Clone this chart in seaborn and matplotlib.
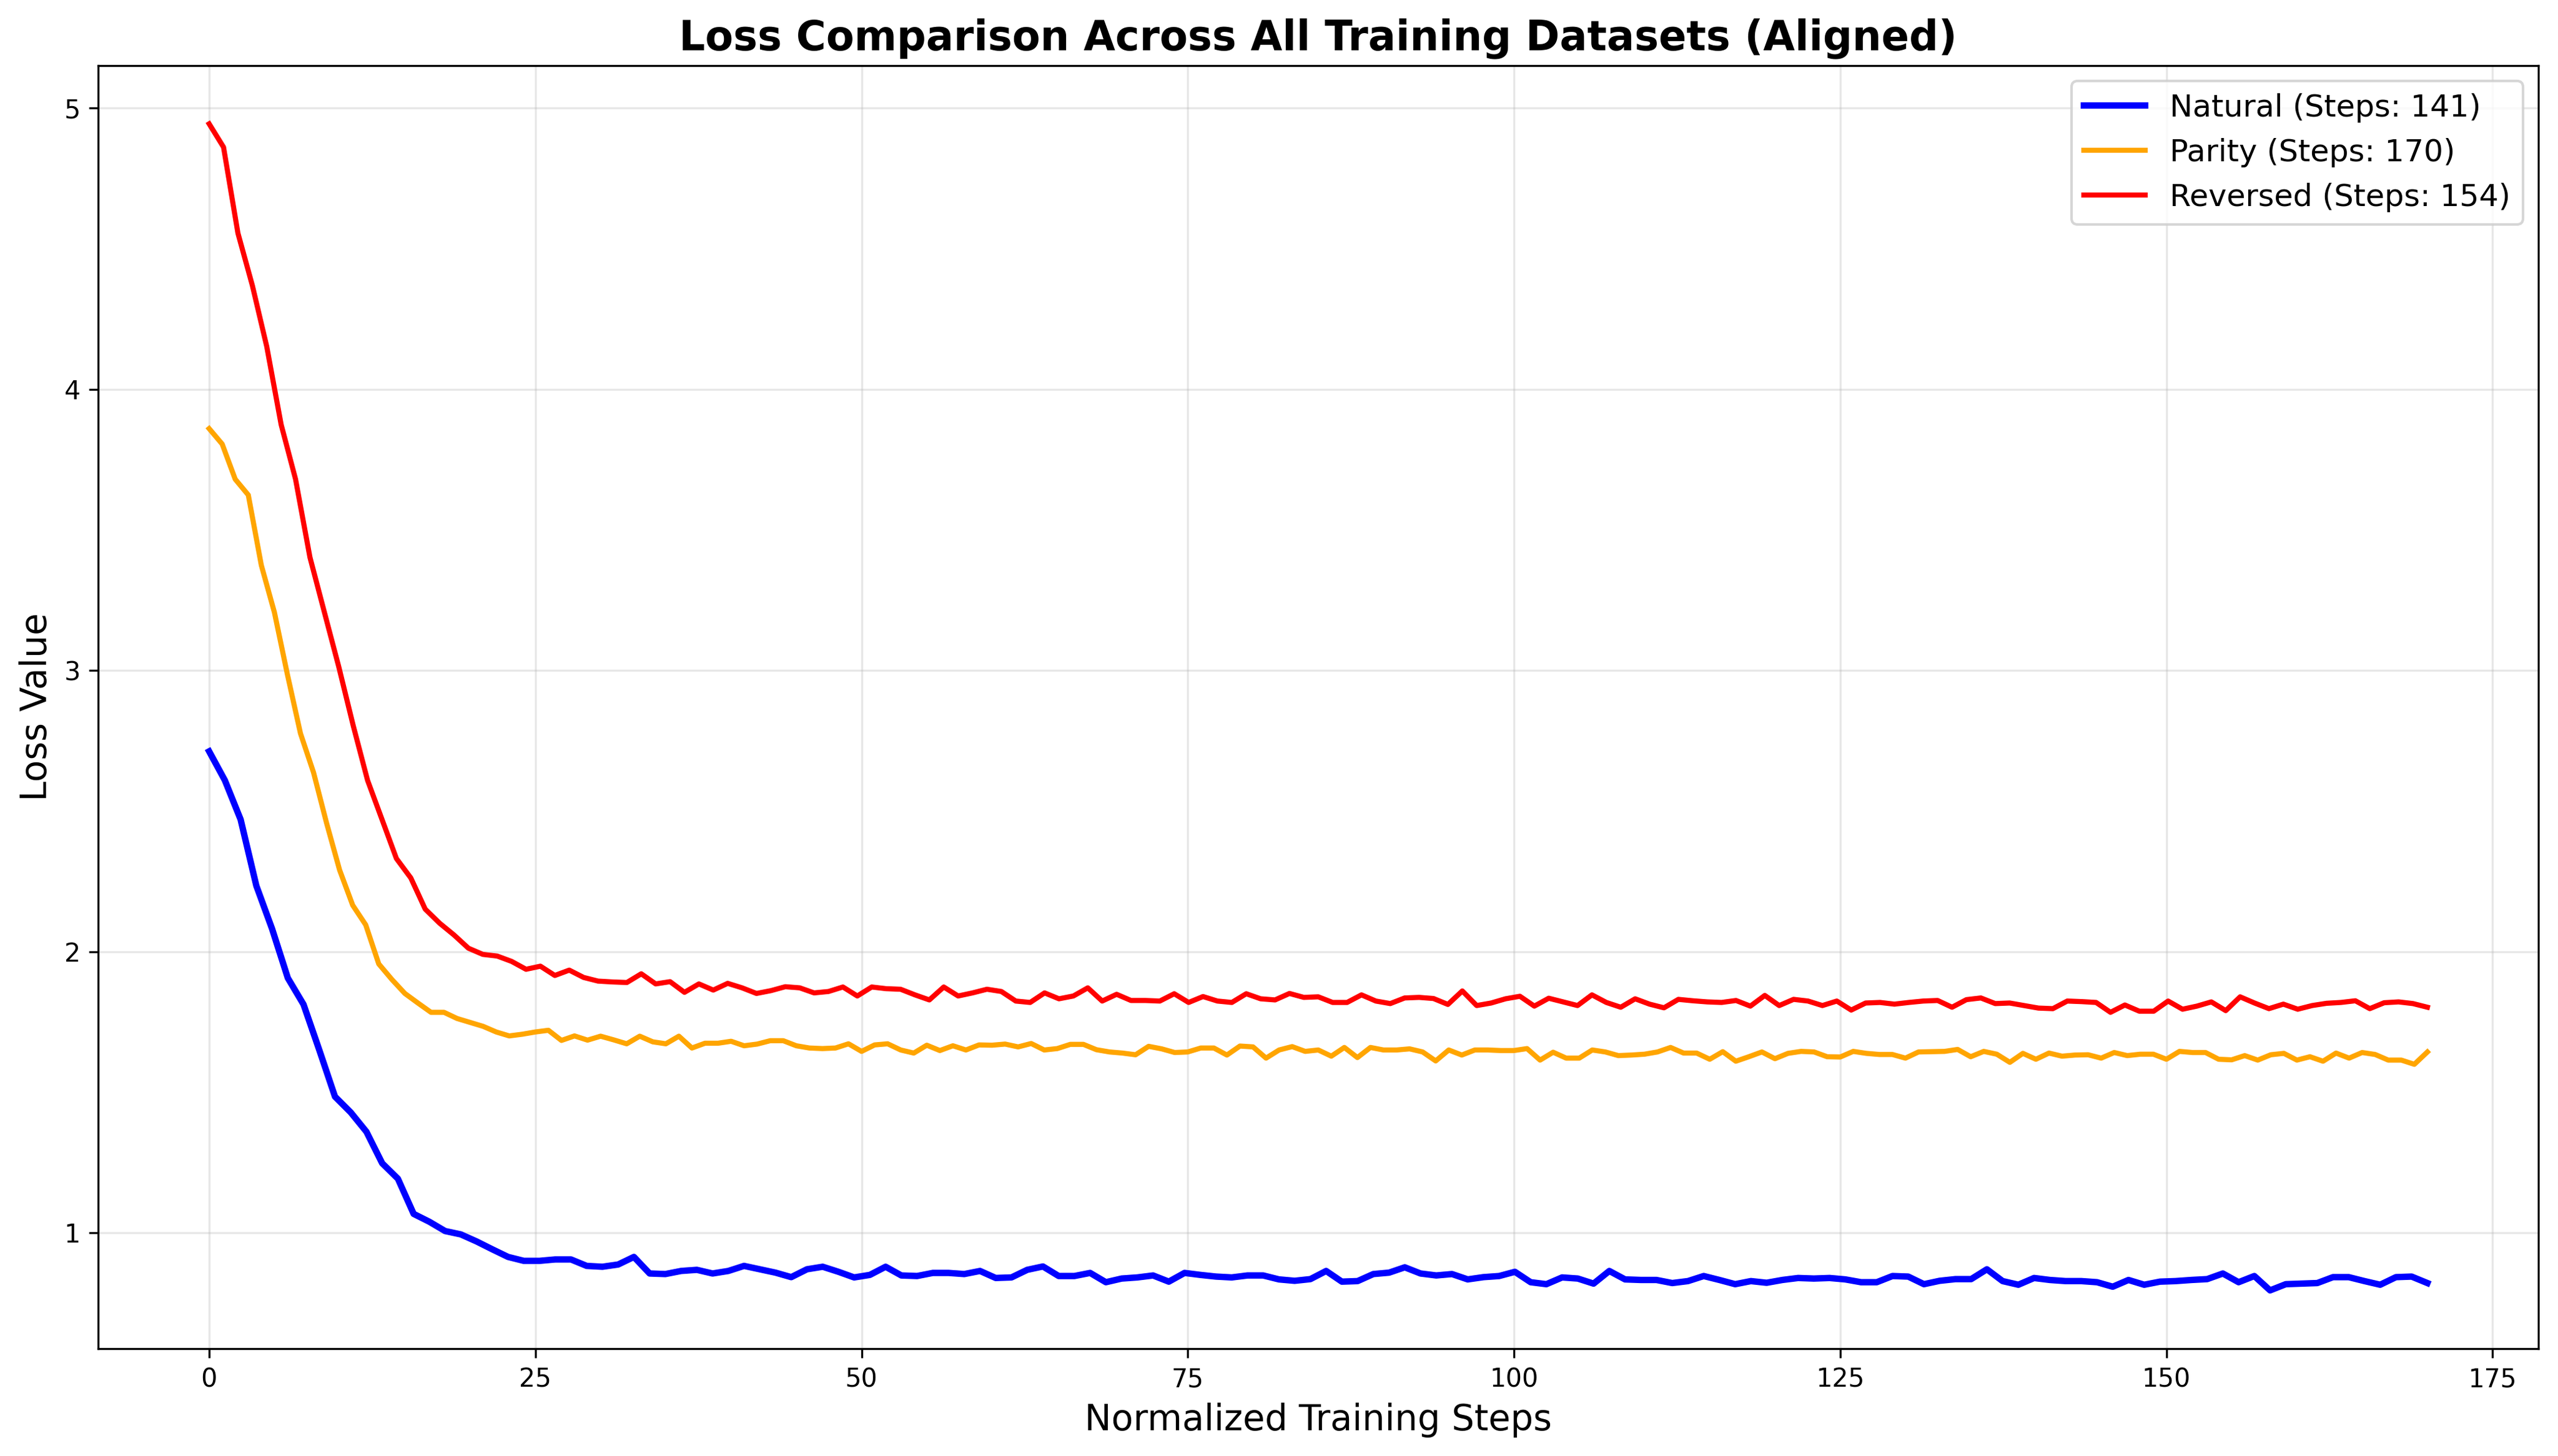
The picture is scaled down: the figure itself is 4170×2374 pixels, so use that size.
import numpy as np
import pandas as pd
import matplotlib
matplotlib.use("Agg")
import matplotlib.pyplot as plt
import seaborn as sns

# ---- data ----
max_steps = 170

natural_loss = [
    2.712, 2.609, 2.470, 2.234, 2.081, 1.906, 1.812, 1.650, 1.484, 1.428,
    1.359, 1.247, 1.192, 1.067, 1.039, 1.006, 0.994, 0.969, 0.941, 0.914,
    0.900, 0.900, 0.905, 0.905, 0.882, 0.879, 0.887, 0.914, 0.855, 0.853,
    0.864, 0.868, 0.855, 0.864, 0.882, 0.870, 0.858, 0.842, 0.870, 0.879,
    0.861, 0.841, 0.850, 0.879, 0.848, 0.846, 0.857, 0.857, 0.853, 0.864,
    0.839, 0.841, 0.868, 0.880, 0.846, 0.846, 0.857, 0.824, 0.837, 0.841,
    0.848, 0.826, 0.857,
    0.850, 0.844, 0.841, 0.848, 0.848, 0.834, 0.829, 0.835, 0.864, 0.826,
    0.828, 0.853, 0.858, 0.877, 0.855, 0.848, 0.853, 0.834, 0.842, 0.846,
    0.861, 0.824, 0.817, 0.841, 0.837, 0.819, 0.864, 0.834, 0.832, 0.832,
    0.821, 0.828, 0.846, 0.832, 0.817, 0.828, 0.822, 0.832, 0.839,
    0.837, 0.839, 0.834, 0.824, 0.824, 0.846, 0.844, 0.817, 0.829, 0.835,
    0.835, 0.870, 0.828, 0.815, 0.839, 0.832, 0.828, 0.828, 0.824, 0.808,
    0.832, 0.815, 0.826, 0.828, 0.832, 0.835, 0.855, 0.824, 0.846, 0.795,
    0.817, 0.819, 0.821, 0.842, 0.842, 0.828, 0.815, 0.842, 0.844, 0.821,
]

parity_loss = [
    3.860, 3.805, 3.680, 3.624, 3.374, 3.207, 2.985, 2.776, 2.637, 2.457,
    2.290, 2.165, 2.095, 1.956, 1.901, 1.851, 1.817, 1.784, 1.784, 1.762,
    1.748, 1.734, 1.714, 1.700, 1.706, 1.714, 1.720, 1.684, 1.700,
    1.685, 1.699, 1.686, 1.672, 1.699, 1.679, 1.672, 1.699, 1.657, 1.674,
    1.674, 1.681, 1.665, 1.671, 1.683, 1.683, 1.665, 1.657, 1.655, 1.657,
    1.672, 1.645, 1.668, 1.672, 1.650, 1.639, 1.667, 1.648, 1.665, 1.650,
    1.668, 1.667, 1.671, 1.661, 1.673, 1.650, 1.655, 1.670, 1.670, 1.651,
    1.643, 1.639, 1.633, 1.663, 1.654, 1.641, 1.643,
    1.657, 1.657, 1.632, 1.664, 1.661, 1.621, 1.650, 1.662, 1.645, 1.650,
    1.628, 1.659, 1.623, 1.659, 1.650, 1.650, 1.654, 1.643, 1.611, 1.650,
    1.632, 1.650, 1.650, 1.648, 1.648, 1.655, 1.614, 1.642, 1.621, 1.621,
    1.650, 1.643, 1.630, 1.632, 1.635, 1.643, 1.659, 1.639, 1.639, 1.617,
    1.644, 1.610, 1.626, 1.643, 1.619, 1.638, 1.645,
    1.643, 1.626, 1.625, 1.645, 1.638, 1.634, 1.634, 1.621, 1.643, 1.644,
    1.645, 1.652, 1.626, 1.645, 1.635, 1.606, 1.638, 1.617, 1.639, 1.628,
    1.632, 1.633, 1.621, 1.641, 1.630, 1.635, 1.635, 1.617, 1.645, 1.641,
    1.641, 1.617, 1.615, 1.630, 1.614, 1.633, 1.638, 1.614, 1.626, 1.610,
    1.639, 1.621, 1.641, 1.634, 1.614, 1.614, 1.599, 1.643,
]

reversed_loss = [
    4.944, 4.861, 4.555, 4.369, 4.152, 3.874, 3.680, 3.402, 3.207, 3.013,
    2.804, 2.609, 2.470, 2.331, 2.262, 2.151, 2.101, 2.059, 2.012, 1.990,
    1.984, 1.965, 1.937, 1.948, 1.915, 1.934,
    1.908, 1.895, 1.892, 1.890, 1.921, 1.885, 1.893, 1.855, 1.885, 1.863,
    1.887, 1.871, 1.851, 1.861, 1.875, 1.871, 1.853, 1.858, 1.874, 1.842,
    1.874, 1.868, 1.866, 1.846, 1.828, 1.874, 1.842, 1.853, 1.866, 1.858,
    1.824, 1.819, 1.853, 1.832, 1.842, 1.871, 1.824, 1.848, 1.826, 1.826,
    1.824, 1.850, 1.819,
    1.840, 1.824, 1.819, 1.850, 1.832, 1.828, 1.851, 1.837, 1.839, 1.819,
    1.819, 1.846, 1.824, 1.815, 1.835, 1.837, 1.833, 1.812, 1.860, 1.808,
    1.817, 1.832, 1.841, 1.806, 1.834, 1.821, 1.808, 1.846, 1.819, 1.802,
    1.832, 1.813, 1.800, 1.830, 1.825, 1.821, 1.819, 1.826, 1.806, 1.844,
    1.808, 1.830,
    1.824, 1.808, 1.824, 1.792, 1.817, 1.819, 1.813, 1.819, 1.824, 1.826,
    1.802, 1.829, 1.835, 1.815, 1.817, 1.808, 1.799, 1.797, 1.824, 1.822,
    1.819, 1.784, 1.810, 1.788, 1.788, 1.824, 1.795, 1.806, 1.821, 1.790,
    1.839, 1.817, 1.797, 1.813, 1.795, 1.808, 1.816, 1.819, 1.825, 1.797,
    1.818, 1.821, 1.815, 1.802,
]

series_names = ["Natural", "Parity", "Reversed"]
series_steps = [141, 170, 154]
series_colors = ["#0000ff", "#ffa500", "#ff0000"]
series_widths = [2.5, 2.0, 2.0]
series_values = [natural_loss, parity_loss, reversed_loss]

# ---- figure ----
fig, ax = plt.subplots(figsize=(4170 / 300, 2374 / 300), dpi=300)
fig.subplots_adjust(left=0.0384, right=0.9923, top=0.955, bottom=0.0737)

for name, steps, color, lw, vals in zip(series_names, series_steps,
                                        series_colors, series_widths,
                                        series_values):
    df = pd.DataFrame({
        "step": np.linspace(0, max_steps, len(vals)),
        "loss": vals,
    })
    sns.lineplot(data=df, x="step", y="loss", ax=ax, color=color,
                 linewidth=lw, label=f"{name} (Steps: {steps})")

ax.set_title("Loss Comparison Across All Training Datasets (Aligned)",
             fontsize=16, fontweight="bold")
ax.set_xlabel("Normalized Training Steps", fontsize=14)
ax.set_ylabel("Loss Value", fontsize=14)
ax.grid(True, alpha=0.3)
ax.legend(loc="upper right", fontsize=12)

fig.savefig("out.png", dpi=300)
